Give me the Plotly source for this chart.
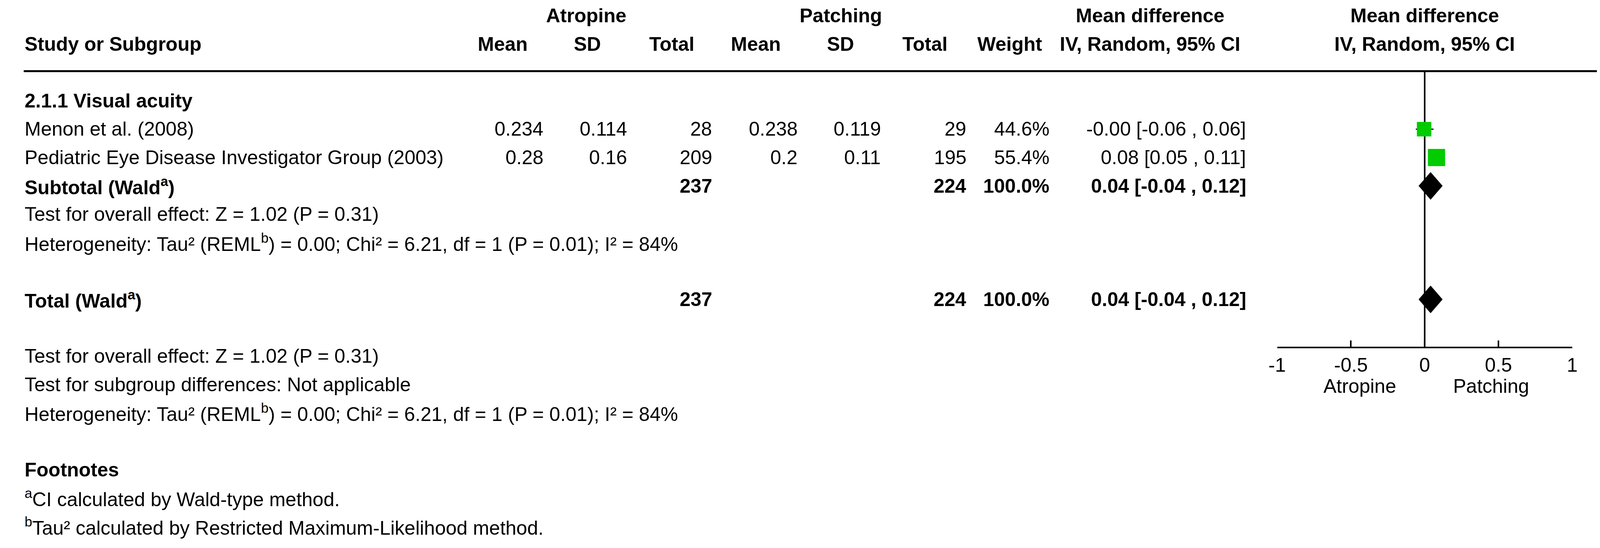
import plotly.graph_objects as go

# study level data
studies = ["Menon et al. (2008)", "Pediatric Eye Disease Investigator Group (2003)"]
atro_mean = [0.234, 0.28]
atro_sd = [0.114, 0.16]
atro_n = [28, 209]
patch_mean = [0.238, 0.2]
patch_sd = [0.119, 0.11]
patch_n = [29, 195]
weights = [44.6, 55.4]
md = [-0.004, 0.08]
ci_low = [-0.06, 0.05]
ci_high = [0.06, 0.11]
square_px = [37, 44]

# pooled result (subtotal == total, only one subgroup)
pooled_md = 0.04
pooled_low = -0.04
pooled_high = 0.12
pooled_atro_n = 237
pooled_patch_n = 224
pooled_weight = 100.0

subgroup_name = "2.1.1 Visual acuity"
overall_effect = "Test for overall effect: Z = 1.02 (P = 0.31)"
heterogeneity = "Heterogeneity: Tau² (REML<sup>b</sup>) = 0.00; Chi² = 6.21, df = 1 (P = 0.01); I² = 84%"
subgroup_diff = "Test for subgroup differences: Not applicable"
footnotes = ["<sup>a</sup>CI calculated by Wald-type method.",
             "<sup>b</sup>Tau² calculated by Restricted Maximum-Likelihood method."]

tick_vals = [-1, -0.5, 0, 0.5, 1]
tick_text = ["-1", "-0.5", "0", "0.5", "1"]
favours = ["Atropine", "Patching"]

W, H = 4131, 1402
TOP, ROW_H = 32, 72.6
FONT = "Liberation Sans, Arial, sans-serif"
FS = 50
GREEN = "#00CC00"


def px(x):
    return x / W


def ci_str(m, lo, hi):
    return f"{m:.2f} [{lo:.2f} , {hi:.2f}]"


fig = go.Figure()
ann = []


def txt(x, row, s, anchor="left", bold=False):
    ann.append(dict(x=px(x), y=row, xref="paper", yref="y", text=f"<b>{s}</b>" if bold else s,
                    showarrow=False, xanchor=anchor, yanchor="middle",
                    font=dict(family=FONT, size=FS, color="black")))


# headers
txt(1484, 0, "Atropine", "center", True)
txt(2141, 0, "Patching", "center", True)
txt(2940, 0, "Mean difference", "center", True)
txt(3649, 0, "Mean difference", "center", True)
txt(31, 1, "Study or Subgroup", bold=True)
for x, s in [(1268, "Mean"), (1486, "SD"), (1705, "Total"), (1922, "Mean"), (2140, "SD"),
             (2359, "Total"), (2577, "Weight"), (2940, "IV, Random, 95% CI"), (3649, "IV, Random, 95% CI")]:
    txt(x, 1, s, "center", True)

# subgroup block
txt(31, 3, subgroup_name, bold=True)
study_rows = [4, 5]
for i, r in enumerate(study_rows):
    txt(31, r, studies[i])
    txt(1375, r, f"{atro_mean[i]:g}", "right")
    txt(1591, r, f"{atro_sd[i]:g}", "right")
    txt(1811, r, str(atro_n[i]), "right")
    txt(2032, r, f"{patch_mean[i]:g}", "right")
    txt(2247, r, f"{patch_sd[i]:g}", "right")
    txt(2467, r, str(patch_n[i]), "right")
    txt(2682, r, f"{weights[i]:.1f}%", "right")
    txt(3190, r, ci_str(md[i], ci_low[i], ci_high[i]), "right")

pooled_rows = {6: "Subtotal (Wald<sup>a</sup>)", 10: "Total (Wald<sup>a</sup>)"}
for r, label in pooled_rows.items():
    txt(31, r, label, bold=True)
    txt(1811, r, str(pooled_atro_n), "right", True)
    txt(2467, r, str(pooled_patch_n), "right", True)
    txt(2682, r, f"{pooled_weight:.1f}%", "right", True)
    txt(3190, r, ci_str(pooled_md, pooled_low, pooled_high), "right", True)

txt(31, 7, overall_effect)
txt(31, 8, heterogeneity)
txt(31, 12, overall_effect)
txt(31, 13, subgroup_diff)
txt(31, 14, heterogeneity)
txt(31, 16, "Footnotes", bold=True)
txt(31, 17, footnotes[0])
txt(31, 18, footnotes[1])

AXIS_ROW = (881 - TOP) / ROW_H
LINE_ROW = (174 - TOP) / ROW_H

# favours labels under the axis
for xv, s in zip([-0.44, 0.45], favours):
    ann.append(dict(x=xv, y=(980 - TOP) / ROW_H, xref="x", yref="y", text=s, showarrow=False,
                    xanchor="center", yanchor="middle", font=dict(family=FONT, size=FS, color="black")))

# zero line
fig.add_trace(go.Scatter(x=[0, 0], y=[LINE_ROW, AXIS_ROW], mode="lines",
                         line=dict(color="black", width=4), hoverinfo="skip"))

# CI whiskers (drawn under the squares)
wx, wy = [], []
for lo, hi, r in zip(ci_low, ci_high, study_rows):
    wx += [lo, hi, None]
    wy += [r, r, None]
fig.add_trace(go.Scatter(x=wx, y=wy, mode="lines", line=dict(color="black", width=3),
                         hoverinfo="skip"))

# study squares
fig.add_trace(go.Scatter(
    x=md, y=study_rows, mode="markers",
    marker=dict(symbol="square", size=square_px, color=GREEN, opacity=1, line=dict(width=0)),
))

# pooled diamonds
half = 0.48
for r in pooled_rows:
    fig.add_trace(go.Scatter(
        x=[pooled_low, pooled_md, pooled_high, pooled_md, pooled_low],
        y=[r, r - half, r, r + half, r],
        mode="lines", fill="toself", fillcolor="black", line=dict(color="black", width=1),
        hoverinfo="skip"))

# header rule
fig.add_shape(type="line", xref="paper", yref="y", x0=px(31), x1=px(4103), y0=LINE_ROW, y1=LINE_ROW,
              line=dict(color="black", width=5))

fig.update_layout(
    width=W, height=H, autosize=False,
    margin=dict(l=0, r=0, t=0, b=0),
    paper_bgcolor="white", plot_bgcolor="white",
    showlegend=False,
    annotations=ann,
    xaxis=dict(domain=[px(3268), px(4030)], range=[-1, 1], anchor="free",
               position=1 - 881 / H, showline=True, linecolor="black", linewidth=4,
               ticks="inside", ticklen=16, tickwidth=4, tickcolor="black",
               tickvals=tick_vals, ticktext=tick_text, showgrid=False, zeroline=False,
               tickfont=dict(family=FONT, size=FS, color="black")),
    yaxis=dict(domain=[0, 1], range=[(H - TOP) / ROW_H, -TOP / ROW_H], visible=False,
               showgrid=False, zeroline=False),
)

fig.write_html("out.html")
